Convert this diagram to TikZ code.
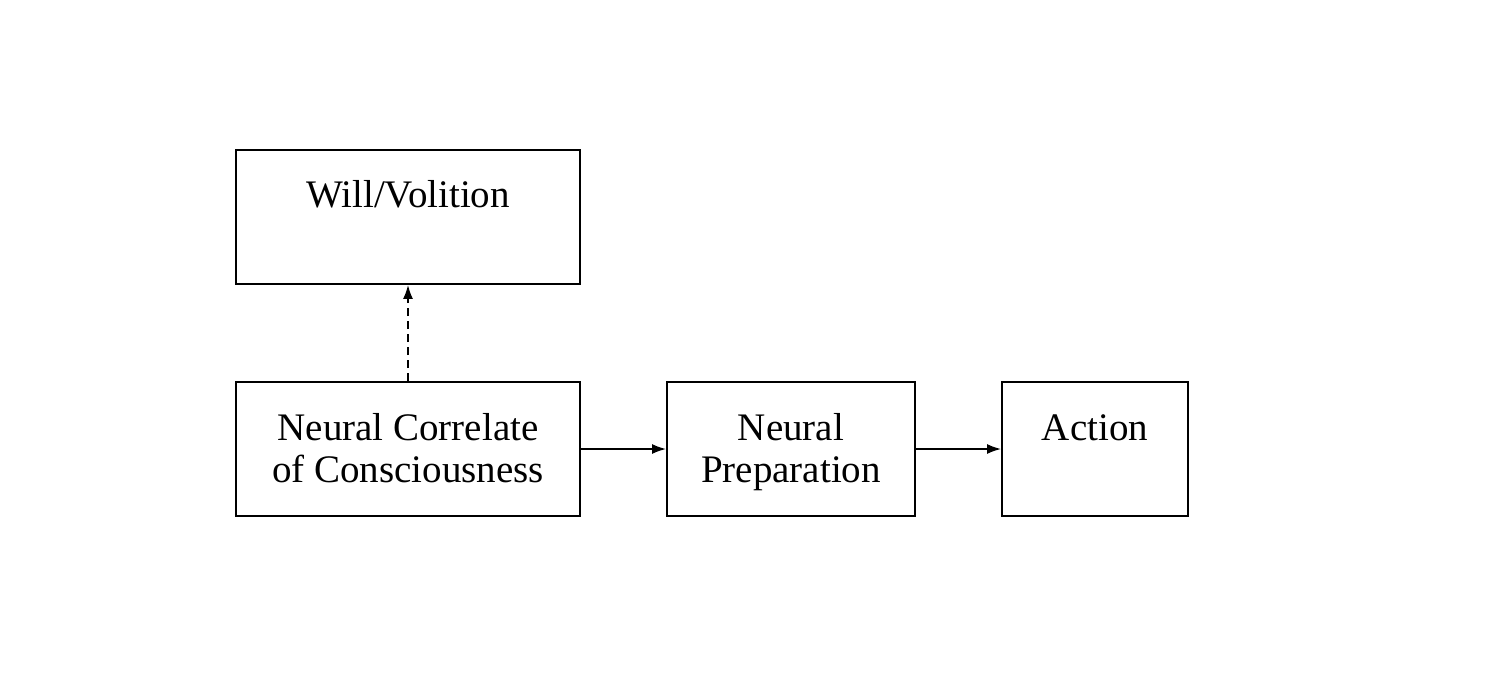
\documentclass[tikz,border=0pt]{standalone}
\usepackage{fontspec}
\setmainfont{Liberation Serif}
\usetikzlibrary{arrows.meta}
\begin{document}
\begin{tikzpicture}[x=1pt,y=-1pt,
  box/.style={draw=black, line width=1.8pt, rectangle, inner sep=0pt},
  lbl/.style={font=\fontsize{39}{42}\selectfont, align=center, inner sep=0pt},
  arr/.style={draw=black, line width=1.8pt, -{Latex[length=14pt,width=10pt]}},
  dasharr/.style={arr, dash pattern=on 8pt off 5pt}]
\useasboundingbox (0,0) rectangle (1510,698);
\node[box, minimum width=344pt, minimum height=134pt] (will) at (408,217) {};
\node[box, minimum width=344pt, minimum height=134pt] (ncc) at (408,449) {};
\node[box, minimum width=248pt, minimum height=134pt] (prep) at (791,449) {};
\node[box, minimum width=186pt, minimum height=134pt] (act) at (1095,449) {};
\node[lbl, anchor=base] (willt) at (408,207) {Will/Volition};
\node[lbl, anchor=base] (ncct) at (408,482) {Neural Correlate\\of Consciousness};
\node[lbl, anchor=base] (prept) at (791,482) {Neural\\Preparation};
\node[lbl, anchor=base] (actt) at (1095,440) {Action};
\draw[dasharr] (ncc.north) -- (will.south);
\draw[arr] (ncc.east) -- (prep.west);
\draw[arr] (prep.east) -- (act.west);
\end{tikzpicture}
\end{document}
